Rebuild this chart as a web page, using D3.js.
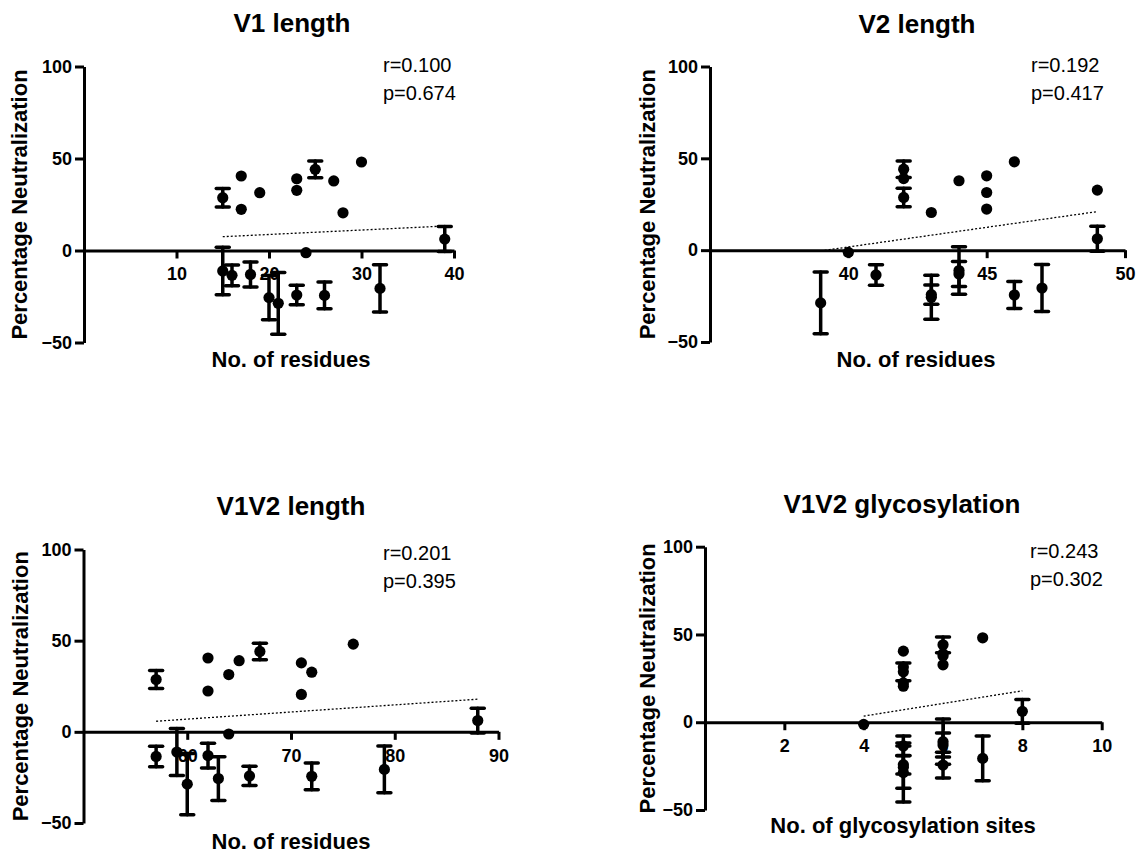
<!DOCTYPE html>
<html lang="en">
<head>
<meta charset="utf-8">
<title>Neutralization vs V1V2 features</title>
<script src="https://d3js.org/d3.v7.min.js"></script>
<style>
  html, body { margin: 0; padding: 0; background: #fff; }
  svg { display: block; font-family: "Liberation Sans", Arial, sans-serif; }
  .axis path, .axis line { stroke: #000; stroke-width: 3px; }
  .axis text { font-size: 18px; font-weight: bold; fill: #000; }
  .title { font-size: 26px; font-weight: bold; }
  .axis-label { font-size: 22px; font-weight: bold; }
  .stat { font-size: 20px; }
</style>
</head>
<body>
<div id="chart"></div>
<script>
// percentage neutralization per isolate (mean and SEM), same isolate order everywhere
const neutMean = [28.7, 40.5, 22.4, 31.4, 39.0, 32.7, 44.1, 37.8, 20.5, 48.1,
                  6.2, -1.2, -11.1, -13.5, -13.0, -25.6, -28.7, -24.2, -24.4, -20.6];
const neutSem  = [5.0, 0, 0, 0, 0, 0, 4.5, 0, 0, 0,
                  6.8, 0, 12.9, 5.6, 6.8, 12.0, 16.8, 5.3, 7.3, 12.8];

// x variables for each isolate
const v1Length   = [15, 17, 17, 19, 23, 23, 25, 27, 28, 30, 39, 24, 15, 16, 18, 20, 21, 23, 26, 32];
const v2Length   = [42, 45, 45, 45, 42, 49, 42, 44, 43, 46, 49, 40, 44, 41, 44, 43, 39, 43, 46, 47];
const v1v2Length = [57, 62, 62, 64, 65, 72, 67, 71, 71, 76, 88, 64, 59, 57, 62, 63, 60, 66, 72, 79];
const v1v2Glyc   = [5, 5, 5, 5, 6, 6, 6, 6, 5, 7, 8, 4, 6, 5, 6, 5, 5, 5, 6, 7];

const titles = ["V1 length", "V2 length", "V1V2 length", "V1V2 glycosylation"];
const xLabels = ["No. of residues", "No. of residues", "No. of residues", "No. of glycosylation sites"];
const yLabel = "Percentage Neutralization";
const xDomains = [[0, 40], [35, 50], [50, 90], [0, 10]];
const xTicks = [[10, 20, 30, 40], [40, 45, 50], [60, 70, 80, 90], [2, 4, 6, 8, 10]];
const yTicks = [-50, 0, 50, 100];
const rValues = ["0.100", "0.192", "0.201", "0.243"];
const pValues = ["0.674", "0.417", "0.395", "0.302"];
// dotted regression lines: [x, y] start and end
const fitLines = [
  [[15, 7.5], [39, 13.3]],
  [[39, -0.4], [49, 21.0]],
  [[57, 5.8], [88, 17.9]],
  [[4, 3.5], [8, 17.9]]
];

const xSeries = [v1Length, v2Length, v1v2Length, v1v2Glyc];

// pixel layout of each panel
const layout = [
  { x: [84, 454],    y: [342.5, 66.5], title: [292, 32],  xlab: [291, 367], ylab: 27,  stat: [383, 72] },
  { x: [710, 1125],  y: [342, 66.5],   title: [917, 33],  xlab: [916, 367], ylab: 655, stat: [1031, 72] },
  { x: [83.5, 498.5], y: [823, 549.5], title: [291, 515], xlab: [291, 849], ylab: 28,  stat: [383, 560] },
  { x: [705, 1101.7], y: [810, 546.7], title: [902, 513], xlab: [903, 833], ylab: 655, stat: [1030, 558] }
];

const W = 1141, H = 854;
const svg = d3.select("#chart").append("svg")
    .attr("width", W)
    .attr("height", H);

titles.forEach(function (title, i) {
  const L = layout[i];
  const x = d3.scaleLinear().domain(xDomains[i]).range(L.x);
  const y = d3.scaleLinear().domain([-50, 100]).range(L.y);
  const g = svg.append("g");

  // y axis
  g.append("g")
      .attr("class", "axis")
      .attr("transform", "translate(" + L.x[0] + ",0)")
      .call(d3.axisLeft(y).tickValues(yTicks).tickSize(9).tickSizeOuter(0).tickPadding(3));

  // x axis sits on y = 0
  g.append("g")
      .attr("class", "axis")
      .attr("transform", "translate(0," + y(0) + ")")
      .call(d3.axisBottom(x).tickValues(xTicks[i]).tickSize(8).tickSizeOuter(0).tickPadding(9));

  g.selectAll(".axis text").attr("fill", "#000");

  // titles and labels
  g.append("text").attr("class", "title")
      .attr("x", L.title[0]).attr("y", L.title[1])
      .attr("text-anchor", "middle").text(title);

  g.append("text").attr("class", "axis-label")
      .attr("x", L.xlab[0]).attr("y", L.xlab[1])
      .attr("text-anchor", "middle").text(xLabels[i]);

  g.append("text").attr("class", "axis-label")
      .attr("transform", "translate(" + L.ylab + "," + ((L.y[0] + L.y[1]) / 2) + ")rotate(-90)")
      .attr("text-anchor", "middle").text(yLabel);

  g.append("text").attr("class", "stat")
      .attr("x", L.stat[0]).attr("y", L.stat[1]).text("r=" + rValues[i]);
  g.append("text").attr("class", "stat")
      .attr("x", L.stat[0]).attr("y", L.stat[1] + 27.5).text("p=" + pValues[i]);

  // regression line
  g.append("path")
      .datum(fitLines[i])
      .attr("fill", "none")
      .attr("stroke", "#000")
      .attr("stroke-width", 1.3)
      .attr("stroke-dasharray", "2,2")
      .attr("d", d3.line().x(function (d) { return x(d[0]); }).y(function (d) { return y(d[1]); }));

  const pts = neutMean.map(function (m, k) {
    return { x: xSeries[i][k], m: m, e: neutSem[k] };
  });

  // error bars
  const eb = g.append("g").selectAll("g")
      .data(pts.filter(function (d) { return d.e > 0; }))
      .enter().append("g")
      .attr("stroke", "#000")
      .attr("stroke-width", 3.5)
      .attr("stroke-linecap", "round");
  eb.append("line")
      .attr("x1", function (d) { return x(d.x); })
      .attr("x2", function (d) { return x(d.x); })
      .attr("y1", function (d) { return y(d.m - d.e); })
      .attr("y2", function (d) { return y(d.m + d.e); });
  eb.append("line")
      .attr("x1", function (d) { return x(d.x) - 6.5; })
      .attr("x2", function (d) { return x(d.x) + 6.5; })
      .attr("y1", function (d) { return y(d.m + d.e); })
      .attr("y2", function (d) { return y(d.m + d.e); });
  eb.append("line")
      .attr("x1", function (d) { return x(d.x) - 6.5; })
      .attr("x2", function (d) { return x(d.x) + 6.5; })
      .attr("y1", function (d) { return y(d.m - d.e); })
      .attr("y2", function (d) { return y(d.m - d.e); });

  // symbols
  g.append("g").selectAll("circle")
      .data(pts)
      .enter().append("circle")
      .attr("cx", function (d) { return x(d.x); })
      .attr("cy", function (d) { return y(d.m); })
      .attr("r", 5.6)
      .attr("fill", "#000");
});
</script>
</body>
</html>
